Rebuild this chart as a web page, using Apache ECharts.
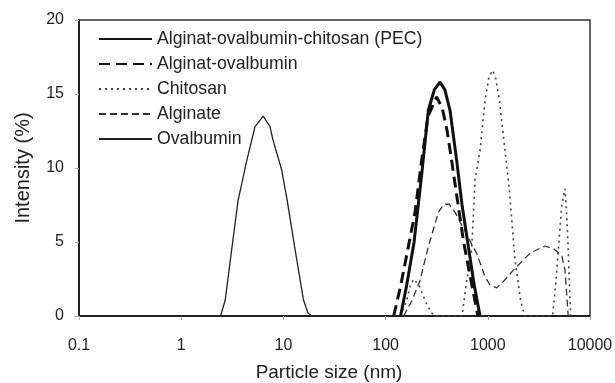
<!DOCTYPE html>
<html>
<head>
<meta charset="utf-8">
<script src="https://cdn.jsdelivr.net/npm/echarts@6/dist/echarts.min.js"></script>
<style>
  html, body { margin: 0; padding: 0; background: #fff; }
  #chart { width: 615px; height: 383px; }
</style>
</head>
<body>
<div id="chart"></div>
<script>
// particle size (nm), intensity (%)
var seriesNames = ['Alginat-ovalbumin-chitosan (PEC)', 'Alginat-ovalbumin', 'Chitosan', 'Alginate', 'Ovalbumin'];
var xTicks = [0.1, 1, 10, 100, 1000, 10000];
var yTicks = [0, 5, 10, 15, 20];

var pec = [[140, 0], [160, 2], [190, 5], [225, 9.5], [262, 13.9], [300, 15.3], [340, 15.8], [380, 15.3],
    [427, 13.9], [496, 10.5], [560, 7.5], [645, 4.7], [740, 2], [840, 0]];
var algOva = [[120, 0], [140, 2], [165, 4.5], [194, 7], [225, 10.5], [260, 13.5], [316, 14.8], [360, 14],
    [400, 12.5], [443, 10.5], [500, 8], [580, 5], [680, 2.5], [800, 0]];
var chitosan = [[140, 0], [160, 1], [175, 2.1], [190, 2.5], [215, 2], [245, 1], [275, 0.3], [300, 0],
    [560, 0], [621, 2.4], [695, 4.5], [750, 9.2], [840, 11.2], [940, 14.6], [1030, 16.2], [1117, 16.6],
    [1200, 16], [1297, 14.6], [1473, 11.2], [1625, 8.5], [1845, 3.8], [2100, 1], [2300, 0],
    [4300, 0], [4600, 2], [4900, 4.5], [5300, 7.5], [5690, 8.6], [5900, 7], [6120, 4.5], [6300, 2], [6470, 0]];
var alginate = [[150, 0], [180, 1], [217, 2.4], [262, 4.7], [328, 7], [370, 7.55], [420, 7.55], [479, 7],
    [540, 6.3], [617, 5.6], [700, 4.8], [776, 4.25], [860, 3.4], [940, 2.65], [1050, 2.1], [1222, 1.9],
    [1450, 2.4], [1780, 3.1], [2590, 4.25], [3630, 4.73], [4500, 4.5], [5290, 4.1], [5690, 3.1], [6120, 0]];
var ovalbumin = [[0.4, 0], [2.43, 0], [2.7, 1.1], [3.12, 4.5], [3.6, 7.8], [4.38, 10.5], [5.27, 12.8],
    [6.35, 13.5], [7.4, 12.8], [7.9, 11.9], [9.6, 9.9], [10.9, 7.8], [13, 4.5], [15.7, 1.1], [17.4, 0.2], [19, 0]];

var font = 'Liberation Sans, Arial, sans-serif';
var txt = '#222';

var chart = echarts.init(document.getElementById('chart'));

function line(name, data, width, type, color, z) {
    return {
        name: name,
        type: 'line',
        data: data,
        symbol: 'none',
        z: z,
        lineStyle: { width: width, type: type, color: color },
        itemStyle: { color: color }
    };
}

var option = {
    animation: false,
    backgroundColor: '#fff',
    grid: {
        left: 79, right: 25, top: 20, bottom: 67,
        outerBoundsMode: 'none',
        containLabel: false,
        show: true, borderColor: '#333', borderWidth: 1.5
    },
    legend: {
        orient: 'vertical',
        left: 93,
        top: 25,
        itemWidth: 53,
        itemHeight: 14,
        itemGap: 7,
        data: seriesNames,
        itemStyle: { color: 'rgba(0,0,0,0)', borderWidth: 0, opacity: 0 },
        textStyle: { fontFamily: font, fontSize: 17.7, lineHeight: 14, color: txt }
    },
    xAxis: {
        type: 'log',
        logBase: 10,
        min: xTicks[0],
        max: xTicks[xTicks.length - 1],
        name: 'Particle size (nm)',
        nameLocation: 'middle',
        nameGap: 47,
        nameTextStyle: { fontFamily: font, fontSize: 19, color: txt, padding: [0, 11, 0, 0] },
        axisLine: { lineStyle: { color: '#222', width: 2 } },
        axisTick: { show: true, length: 4, lineStyle: { color: '#aaa' } },
        minorTick: { show: false },
        splitLine: { show: false },
        axisLabel: {
            fontFamily: font, fontSize: 16, color: txt, margin: 22,
            formatter: function (v) { return String(v); }
        }
    },
    yAxis: {
        type: 'value',
        min: yTicks[0],
        max: yTicks[yTicks.length - 1],
        interval: 5,
        name: 'Intensity (%)',
        nameLocation: 'middle',
        nameGap: 46,
        nameTextStyle: { fontFamily: font, fontSize: 20, color: txt },
        axisLine: { show: true, lineStyle: { color: '#222', width: 2 } },
        axisTick: { show: true, length: 4, lineStyle: { color: '#aaa' } },
        splitLine: { show: false },
        axisLabel: { fontFamily: font, fontSize: 16, color: txt, margin: 15 }
    },
    series: [
        line(seriesNames[0], pec, 3, 'solid', '#111', 10),
        line(seriesNames[1], algOva, 3, [11, 6], '#111', 9),
        line(seriesNames[2], chitosan, 1.6, [2, 4], '#444', 6),
        line(seriesNames[3], alginate, 1.3, [7, 4], '#333', 7),
        line(seriesNames[4], ovalbumin, 1.3, 'solid', '#222', 8)
    ]
};

chart.setOption(option);
</script>
</body>
</html>
